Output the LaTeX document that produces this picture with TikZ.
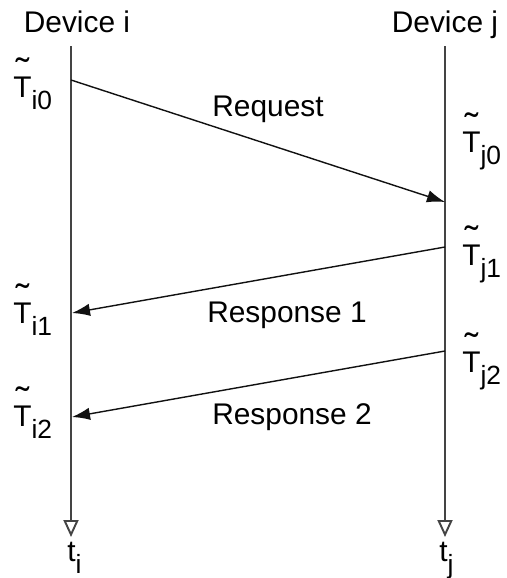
\documentclass[tikz,border=0pt]{standalone}
\usepackage{fontspec}
\setmainfont{Liberation Sans}
\usepackage{tikz}
\usetikzlibrary{arrows.meta,positioning}
\definecolor{seqline}{HTML}{444444}
\definecolor{seqdark}{HTML}{111111}
\newcommand{\lowsub}[1]{\raisebox{-0.42em}{\fontsize{15}{15}\selectfont #1}}
\newcommand{\tstamp}[1]{\ooalign{T\cr\hidewidth\raisebox{0.44em}{\scalebox{1.35}[1.2]{\char"02DC}}\hidewidth\cr}\lowsub{#1}}
\tikzset{
  dev/.style={font=\fontsize{17}{20}\selectfont,inner sep=0pt,anchor=base},
  stamp/.style={font=\fontsize{17}{20}\selectfont,inner sep=0pt,anchor=base west},
  msglbl/.style={font=\fontsize{17}{20}\selectfont,inner sep=0pt,anchor=base},
  timeline/.style={-{Triangle[open,length=3.4mm,width=3mm]},draw=seqline,line width=1.1pt},
  msg/.style={-{Latex[length=3.6mm,width=2.5mm]},draw=seqdark,line width=0.8pt},
}
\begin{document}
\begin{tikzpicture}[x=0.02cm,y=-0.02cm]
  \useasboundingbox (0,0) rectangle (507,578);
  \node[dev] (devi) at (77,32) {Device i};
  \node[dev] (devj) at (445,32) {Device j};
  \coordinate (itop) at (71,46); \coordinate (ibot) at (71,537);
  \coordinate (jtop) at (445,46); \coordinate (jbot) at (445,537);
  \draw[timeline] (itop) -- (ibot);
  \draw[timeline] (jtop) -- (jbot);
  \node[stamp] (ti) at (67,561) {t\lowsub{i}};
  \node[stamp] (tj) at (439,561) {t\lowsub{j}};
  \coordinate (i0) at (71,80); \coordinate (j0) at (445,202);
  \coordinate (j1) at (445,247); \coordinate (i1) at (72,313);
  \coordinate (j2) at (445,351); \coordinate (i2) at (72,417);
  \draw[msg] (i0) -- (j0);
  \draw[msg] (j1) -- (i1);
  \draw[msg] (j2) -- (i2);
  \node[msglbl] (req) at (268,116) {Request};
  \node[msglbl] (resp1) at (287,322) {Response 1};
  \node[msglbl] (resp2) at (292,424) {Response 2};
  \node[stamp] (si0) at (13,97) {\tstamp{i0}};
  \node[stamp] (si1) at (13,323) {\tstamp{i1}};
  \node[stamp] (si2) at (13,426) {\tstamp{i2}};
  \node[stamp] (sj0) at (462,152) {\tstamp{j0}};
  \node[stamp] (sj1) at (462,265) {\tstamp{j1}};
  \node[stamp] (sj2) at (462,372) {\tstamp{j2}};
\end{tikzpicture}
\end{document}
